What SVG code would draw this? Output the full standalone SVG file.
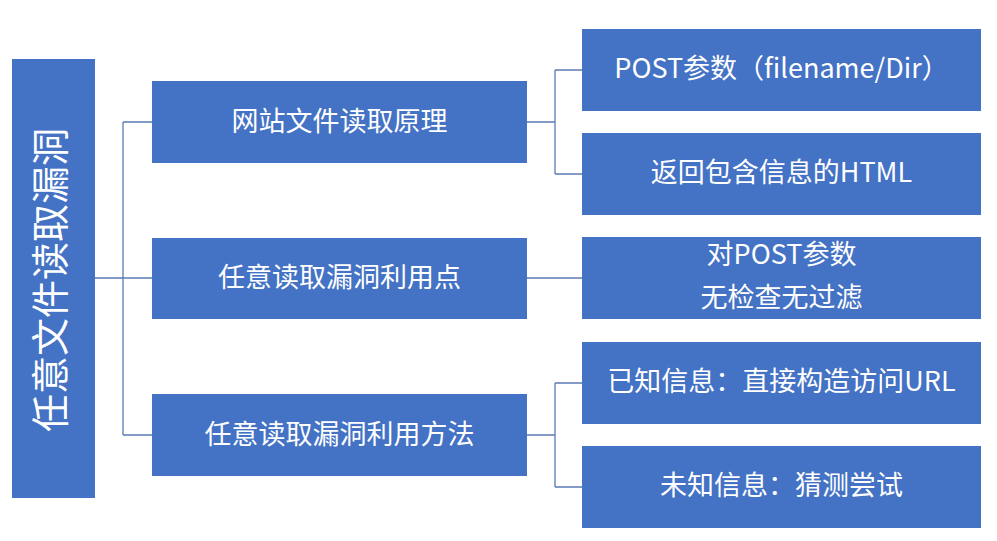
<svg xmlns="http://www.w3.org/2000/svg" width="997" height="541" viewBox="0 0 997 541">
<style>
.box{fill:#4472C4;}
.t{fill:#ffffff;font-family:"Noto Sans CJK SC","Microsoft YaHei",sans-serif;text-anchor:middle;dominant-baseline:central;}
.l2{font-size:27px;}
.l3{font-size:27px;}
.root{font-size:38px;}
.c{fill:none;stroke:#5A7BB5;stroke-width:1.3;}
</style>
<rect width="997" height="541" fill="#ffffff"/>
<g id="connectors">
<path class="c" d="M95,278 H123 M123,122 V435 M123,122 H152 M123,278 H152 M123,435 H152"/>
<path class="c" d="M527,122 H555 M555,70 V174 M555,70 H582 M555,174 H582"/>
<path class="c" d="M527,278 H582"/>
<path class="c" d="M527,435 H555 M555,383 V487 M555,383 H582 M555,487 H582"/>
</g>
<g id="root">
<rect class="box" x="12" y="59" width="83" height="439"/>
<text class="t root" transform="translate(47,280) rotate(-90)">任意文件读取漏洞</text>
</g>
<g id="n1">
<rect class="box" x="152" y="81" width="375" height="82"/>
<text class="t l2" x="339.5" y="119">网站文件读取原理</text>
</g>
<g id="n2">
<rect class="box" x="152" y="238" width="375" height="81"/>
<text class="t l2" x="339.5" y="275">任意读取漏洞利用点</text>
</g>
<g id="n3">
<rect class="box" x="152" y="394" width="375" height="82"/>
<text class="t l2" x="339.5" y="432">任意读取漏洞利用方法</text>
</g>
<g id="n1a">
<rect class="box" x="582" y="29" width="399" height="82"/>
<text class="t l3" x="781.5" y="66">POST参数（filename/Dir）</text>
</g>
<g id="n1b">
<rect class="box" x="582" y="133" width="399" height="82"/>
<text class="t l3" x="781.5" y="170">返回包含信息的HTML</text>
</g>
<g id="n2a">
<rect class="box" x="582" y="237" width="399" height="82"/>
<text class="t l3" x="781.5" y="252">对POST参数</text>
<text class="t l3" x="781.5" y="295">无检查无过滤</text>
</g>
<g id="n3a">
<rect class="box" x="582" y="342" width="399" height="82"/>
<text class="t l3" x="781.5" y="379">已知信息：直接构造访问URL</text>
</g>
<g id="n3b">
<rect class="box" x="582" y="446" width="399" height="82"/>
<text class="t l3" x="781.5" y="483">未知信息：猜测尝试</text>
</g>
</svg>
